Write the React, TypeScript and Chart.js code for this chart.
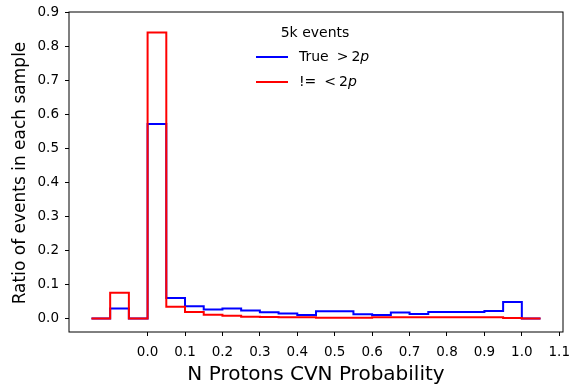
import React, { useEffect, useRef } from "react";
import { Chart, registerables } from "chart.js";

Chart.register(...registerables);

// Histogram bin edges (N Protons CVN Probability)
const binEdges = [
  -0.15, -0.1, -0.05, 0.0, 0.05, 0.1, 0.15, 0.2, 0.25, 0.3, 0.35, 0.4, 0.45,
  0.5, 0.55, 0.6, 0.65, 0.7, 0.75, 0.8, 0.85, 0.9, 0.95, 1.0, 1.05,
];

// "True >2p" ratio per bin
const trueGt2p = [
  0.0, 0.029, 0.0, 0.571, 0.06, 0.036, 0.026, 0.029, 0.023, 0.018, 0.014,
  0.01, 0.021, 0.021, 0.012, 0.01, 0.017, 0.013, 0.019, 0.019, 0.019, 0.022,
  0.048, 0.0,
];

// "!= <2p" ratio per bin
const neLt2p = [
  0.0, 0.075, 0.0, 0.84, 0.034, 0.019, 0.011, 0.008, 0.005, 0.004, 0.003,
  0.003, 0.002, 0.002, 0.002, 0.003, 0.003, 0.003, 0.003, 0.003, 0.003,
  0.003, 0.001, 0.0,
];

const xTicks = [0.0, 0.1, 0.2, 0.3, 0.4, 0.5, 0.6, 0.7, 0.8, 0.9, 1.0, 1.1];
const yTicks = [0.0, 0.1, 0.2, 0.3, 0.4, 0.5, 0.6, 0.7, 0.8, 0.9];

const legendTitle = "5k events";
const xTitle = "N Protons CVN Probability";
const yTitle = "Ratio of events in each sample";

const BLUE = "#0000ff";
const RED = "#ff0000";
const FONT = "'DejaVu Sans', sans-serif";

function stepPoints(vals: number[]) {
  const pts = vals.map((v, i) => ({ x: binEdges[i], y: v }));
  pts.push({ x: binEdges[vals.length], y: vals[vals.length - 1] });
  return pts;
}

const framePlugin = {
  id: "frameAndText",
  afterDraw(chart: any) {
    const { ctx, chartArea: a } = chart;
    ctx.save();
    // axes frame
    ctx.strokeStyle = "#000";
    ctx.lineWidth = 1;
    ctx.strokeRect(a.left, a.top, a.right - a.left, a.bottom - a.top);

    // x title
    ctx.fillStyle = "#000";
    ctx.font = `20px ${FONT}`;
    ctx.textAlign = "center";
    ctx.textBaseline = "alphabetic";
    ctx.fillText(xTitle, (a.left + a.right) / 2, 380);

    // y title
    ctx.save();
    ctx.translate(25, (a.top + a.bottom) / 2 + 1);
    ctx.rotate(-Math.PI / 2);
    ctx.font = `17px ${FONT}`;
    ctx.textAlign = "center";
    ctx.fillText(yTitle, 0, 0);
    ctx.restore();

    // legend
    ctx.font = `14px ${FONT}`;
    ctx.textAlign = "center";
    ctx.textBaseline = "middle";
    ctx.fillText(legendTitle, 315, 33);

    const entries = [
      { color: BLUE, y: 57, lead: "True", rel: ">" },
      { color: RED, y: 82, lead: "!=", rel: "<" },
    ];
    entries.forEach((e) => {
      ctx.strokeStyle = e.color;
      ctx.lineWidth = 2;
      ctx.beginPath();
      ctx.moveTo(256, e.y);
      ctx.lineTo(288, e.y);
      ctx.stroke();
      ctx.textAlign = "left";
      ctx.font = `14px ${FONT}`;
      let x = 299;
      ctx.fillText(e.lead, x, e.y);
      x += ctx.measureText(e.lead).width + 8;
      ctx.fillText(e.rel, x, e.y);
      x += ctx.measureText(e.rel).width + 3;
      ctx.fillText("2", x, e.y);
      x += ctx.measureText("2").width;
      ctx.font = `italic 14px ${FONT}`;
      ctx.fillText("p", x, e.y);
    });
    ctx.restore();
  },
};

export default function App() {
  const ref = useRef<HTMLCanvasElement>(null);
  useEffect(() => {
    document.body.style.margin = "0";
    const canvas = ref.current!;
    const tickFont = { family: FONT, size: 13.5 };
    const chart = new Chart(canvas, {
      type: "line",
      data: {
        datasets: [
          {
            label: "!= <2p",
            data: stepPoints(neLt2p),
            borderColor: RED,
            borderWidth: 2,
            stepped: "before",
            pointRadius: 0,
            fill: false,
          },
          {
            label: "True >2p",
            data: stepPoints(trueGt2p),
            borderColor: BLUE,
            borderWidth: 2,
            stepped: "before",
            pointRadius: 0,
            fill: false,
          },
        ],
      },
      options: {
        animation: false,
        responsive: false,
        maintainAspectRatio: false,
        parsing: false,
        layout: { padding: { top: 12, right: 7, left: 0, bottom: 0 } },
        plugins: {
          legend: { display: false },
          tooltip: { enabled: false },
        },
        scales: {
          x: {
            type: "linear",
            min: -0.21,
            max: 1.11,
            afterBuildTicks: (s: any) => {
              s.ticks = xTicks.map((v) => ({ value: v }));
            },
            afterFit: (s: any) => {
              s.height = 53;
              s.paddingLeft = 0;
              s.paddingRight = 0;
            },
            ticks: {
              color: "#000",
              font: tickFont,
              padding: 8,
              maxRotation: 0,
              autoSkip: false,
              callback: (v: any) => Number(v).toFixed(1),
            },
            grid: {
              drawOnChartArea: false,
              drawTicks: true,
              tickLength: 4,
              color: "#000",
            },
            border: { display: false },
          },
          y: {
            type: "linear",
            min: -0.04,
            max: 0.9,
            afterBuildTicks: (s: any) => {
              s.ticks = yTicks.map((v) => ({ value: v }));
            },
            afterFit: (s: any) => {
              s.width = 69;
              s.paddingTop = 0;
              s.paddingBottom = 0;
            },
            ticks: {
              color: "#000",
              font: tickFont,
              padding: 6,
              autoSkip: false,
              callback: (v: any) => Number(v).toFixed(1),
            },
            grid: {
              drawOnChartArea: false,
              drawTicks: true,
              tickLength: 4,
              color: "#000",
            },
            border: { display: false },
          },
        },
      },
      plugins: [framePlugin],
    } as any);
    return () => chart.destroy();
  }, []);
  return (
    <div style={{ width: 570, height: 385, position: "relative" }}>
      <canvas ref={ref} width={570} height={385} style={{ display: "block" }} />
    </div>
  );
}
